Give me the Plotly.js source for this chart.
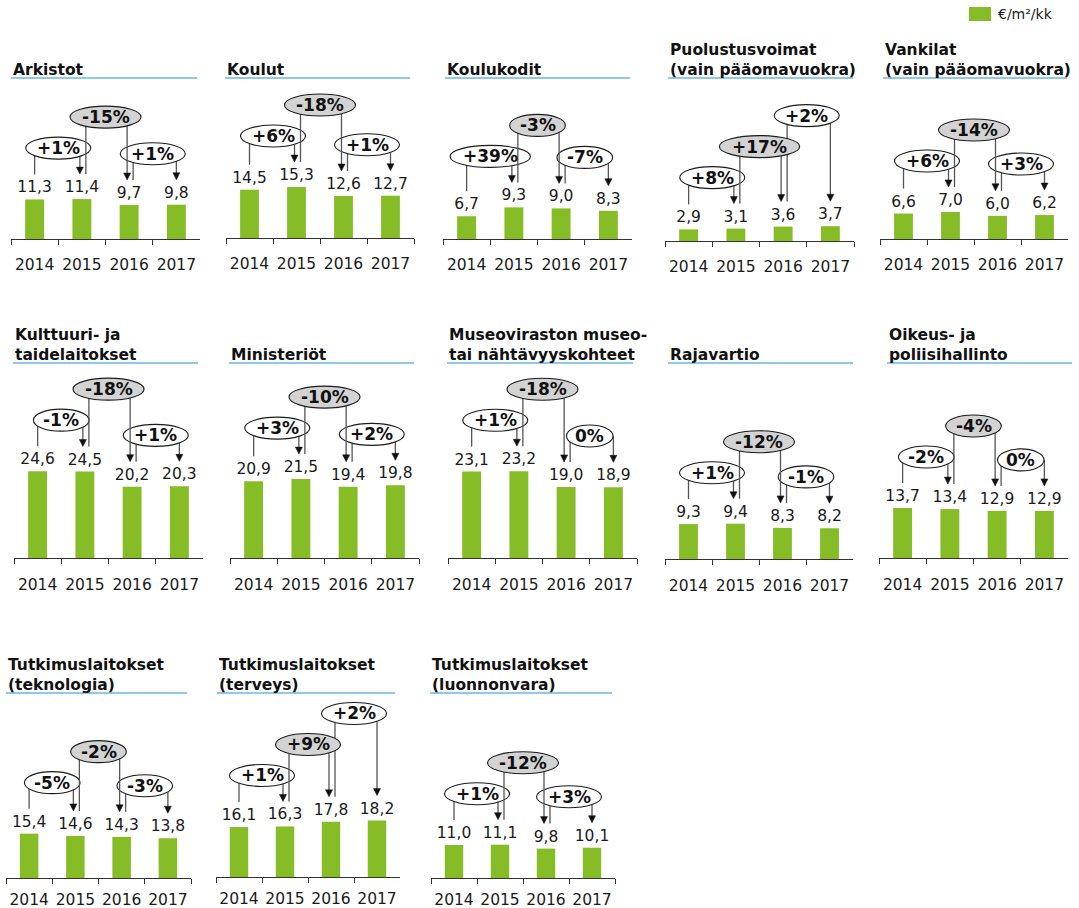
<!DOCTYPE html>
<html><head><meta charset="utf-8">
<script src="https://cdn.plot.ly/plotly-3.0.1.min.js"></script>
<style>html,body{margin:0;padding:0;background:#fff}</style>
</head><body><div id="chart" style="width:1079px;height:908px"></div>
<script>
// ---------- data ----------
const years = ['2014', '2015', '2016', '2017'];
const unitLabel = '€/m²/kk';

const arkistot = [11.3, 11.4, 9.7, 9.8];
const koulut = [14.5, 15.3, 12.6, 12.7];
const koulukodit = [6.7, 9.3, 9.0, 8.3];
const puolustusvoimat = [2.9, 3.1, 3.6, 3.7];
const vankilat = [6.6, 7.0, 6.0, 6.2];
const kulttuuri = [24.6, 24.5, 20.2, 20.3];
const ministeriot = [20.9, 21.5, 19.4, 19.8];
const museovirasto = [23.1, 23.2, 19.0, 18.9];
const rajavartio = [9.3, 9.4, 8.3, 8.2];
const oikeus = [13.7, 13.4, 12.9, 12.9];
const tutkTeknologia = [15.4, 14.6, 14.3, 13.8];
const tutkTerveys = [16.1, 16.3, 17.8, 18.2];
const tutkLuonnonvara = [11.0, 11.1, 9.8, 10.1];

const arkistotChange = ['+1%', '-15%', '+1%'];
const koulutChange = ['+6%', '-18%', '+1%'];
const koulukoditChange = ['+39%', '-3%', '-7%'];
const puolustusvoimatChange = ['+8%', '+17%', '+2%'];
const vankilatChange = ['+6%', '-14%', '+3%'];
const kulttuuriChange = ['-1%', '-18%', '+1%'];
const ministeriotChange = ['+3%', '-10%', '+2%'];
const museovirastoChange = ['+1%', '-18%', '0%'];
const rajavartioChange = ['+1%', '-12%', '-1%'];
const oikeusChange = ['-2%', '-4%', '0%'];
const tutkTeknologiaChange = ['-5%', '-2%', '-3%'];
const tutkTerveysChange = ['+1%', '+9%', '+2%'];
const tutkLuonnonvaraChange = ['+1%', '-12%', '+3%'];

const panelTitles = [
  ['Arkistot'],
  ['Koulut'],
  ['Koulukodit'],
  ['Puolustusvoimat', '(vain pääomavuokra)'],
  ['Vankilat', '(vain pääomavuokra)'],
  ['Kulttuuri- ja', 'taidelaitokset'],
  ['Ministeriöt'],
  ['Museoviraston museo-', 'tai nähtävyyskohteet'],
  ['Rajavartio'],
  ['Oikeus- ja', 'poliisihallinto'],
  ['Tutkimuslaitokset', '(teknologia)'],
  ['Tutkimuslaitokset', '(terveys)'],
  ['Tutkimuslaitokset', '(luonnonvara)']
];
const panelValues = [arkistot, koulut, koulukodit, puolustusvoimat, vankilat,
  kulttuuri, ministeriot, museovirasto, rajavartio, oikeus,
  tutkTeknologia, tutkTerveys, tutkLuonnonvara];
const panelChanges = [arkistotChange, koulutChange, koulukoditChange, puolustusvoimatChange, vankilatChange,
  kulttuuriChange, ministeriotChange, museovirastoChange, rajavartioChange, oikeusChange,
  tutkTeknologiaChange, tutkTerveysChange, tutkLuonnonvaraChange];

// ---------- layout geometry (pixels) ----------
// ax0/ax1: x-axis extent, ay: axis line y, scale: px per unit, ux0/ux1/uy: title underline, ls: tick label standoff
const geom = [
  {ax0: 11, ax1: 200, ay: 239, scale: 3.5, ux0: 11, ux1: 197, uy: 78, ls: 11},
  {ax0: 226, ax1: 414, ay: 238, scale: 3.33, ux0: 225, ux1: 410, uy: 78, ls: 11},
  {ax0: 443, ax1: 632, ay: 239, scale: 3.4, ux0: 445, ux1: 630, uy: 78, ls: 11},
  {ax0: 665, ax1: 854, ay: 241, scale: 4.0, ux0: 668, ux1: 853, uy: 78, ls: 11},
  {ax0: 880, ax1: 1068, ay: 239, scale: 3.86, ux0: 883, ux1: 1067, uy: 78, ls: 11},
  {ax0: 14, ax1: 203, ay: 558, scale: 3.53, ux0: 13, ux1: 198, uy: 363, ls: 12},
  {ax0: 230, ax1: 419, ay: 558, scale: 3.67, ux0: 229, ux1: 414, uy: 363, ls: 12},
  {ax0: 448, ax1: 637, ay: 558, scale: 3.74, ux0: 447, ux1: 633, uy: 363, ls: 12},
  {ax0: 665, ax1: 853, ay: 559, scale: 3.75, ux0: 668, ux1: 853, uy: 363, ls: 12},
  {ax0: 879, ax1: 1068, ay: 558, scale: 3.65, ux0: 887, ux1: 1072, uy: 363, ls: 12},
  {ax0: 6, ax1: 191, ay: 878, scale: 2.88, ux0: 6, ux1: 187, uy: 693, ls: 7},
  {ax0: 216, ax1: 400, ay: 877, scale: 3.1, ux0: 217, ux1: 395, uy: 693, ls: 7},
  {ax0: 431, ax1: 615, ay: 878, scale: 3.0, ux0: 430, ux1: 612, uy: 693, ls: 7}
];

const W = 1079, H = 908;
const FONT = 'DejaVu Sans, Verdana, sans-serif';
const GREEN = '#86bc25';
const px = x => x / W;
const py = y => 1 - y / H;
const PLOT_H = 200;

const canvas = document.createElement('canvas');
const ctx = canvas.getContext('2d');
ctx.font = 'bold 16px "DejaVu Sans"';
const textW = t => ctx.measureText(t).width;

const data = [], shapes = [], annotations = [];
const layout = {
  width: W, height: H,
  margin: {l: 0, r: 0, t: 0, b: 0},
  paper_bgcolor: '#fff', plot_bgcolor: 'rgba(0,0,0,0)',
  font: {family: FONT, color: '#1a1a1a'},
  showlegend: false,
  bargap: 0.6
};

const fmt = v => v.toFixed(1).replace('.', ',');

panelValues.forEach((vals, i) => {
  const g = geom[i];
  const n = i + 1;
  const sfx = n === 1 ? '' : String(n);
  const xr = 'x' + sfx, yr = 'y' + sfx;
  data.push({
    type: 'bar', x: years, y: vals, xaxis: xr, yaxis: yr,
    marker: {color: GREEN},
    text: vals.map(fmt), textposition: 'outside', constraintext: 'none',
    cliponaxis: false,
    textfont: {family: FONT, size: 15.5, color: '#1a1a1a'},
    hovertemplate: '%{x}: %{text} ' + unitLabel + '<extra></extra>'
  });
  layout['xaxis' + sfx] = {
    domain: [px(g.ax0), px(g.ax1)], anchor: yr, type: 'category',
    showline: true, linecolor: '#333', linewidth: 1,
    ticks: 'outside', tickson: 'boundaries', ticklen: 5, tickcolor: '#333', tickwidth: 1,
    tickfont: {family: FONT, size: 15.5, color: '#1a1a1a'},
    tickangle: 0, ticklabelstandoff: g.ls,
    showgrid: false, zeroline: false, fixedrange: true
  };
  layout['yaxis' + sfx] = {
    domain: [py(g.ay), py(g.ay - PLOT_H)], anchor: xr,
    range: [0, PLOT_H / g.scale], visible: false, fixedrange: true
  };

  // title + underline
  annotations.push({
    xref: 'paper', yref: 'paper', x: px(g.ux0), y: py(g.uy + 3),
    xanchor: 'left', yanchor: 'bottom', align: 'left', showarrow: false,
    text: panelTitles[i].map(t => '<b>' + t + '</b>').join('<br>'),
    font: {family: FONT, size: 15.5, color: '#111'}
  });
  shapes.push({type: 'line', xref: 'paper', yref: 'paper',
    x0: px(g.ux0), x1: px(g.ux1), y0: py(g.uy), y1: py(g.uy),
    line: {color: '#8dc9ea', width: 2}});

  // change bubbles
  const cw = (g.ax1 - g.ax0) / 4;
  const cx = k => g.ax0 + (k + 0.5) * cw;
  const barTop = k => g.ay - vals[k] * g.scale;
  const endY = k => barTop(k) - 25;
  const stair = vals.every((v, k) => k === 0 || v > vals[k - 1]);
  const lv = [Math.max(vals[0], vals[1]) * g.scale + 51, 0, Math.max(vals[2], vals[3]) * g.scale + 51];
  if (stair) { lv[1] = lv[0] + 31; lv[2] = lv[1] + 31; }
  else { lv[1] = Math.max(lv[0], lv[2]) + 31; }

  const order = [0, 2, 1];
  order.forEach(k => {
    const label = panelChanges[i][k];
    const bx = g.ax0 + (k + 1) * cw;
    const by = g.ay - lv[k];
    const a = (1.38 * textW(label) + 9) / 2;
    const b = 11;
    const edgeY = x => Math.abs(x - bx) < a ? by + b * Math.sqrt(1 - Math.pow((x - bx) / a, 2)) : by;
    const xs = cx(k) + (k > 0 ? 4 : 0);
    const xe = cx(k + 1) - (k + 1 < 3 ? 2 : 0);
    const ye = endY(k + 1);
    shapes.push({type: 'line', xref: 'paper', yref: 'paper',
      x0: px(xs), x1: px(xs), y0: py(edgeY(xs)), y1: py(endY(k)),
      line: {color: '#555', width: 1.3}});
    shapes.push({type: 'line', xref: 'paper', yref: 'paper',
      x0: px(xe), x1: px(xe), y0: py(edgeY(xe)), y1: py(ye - 6),
      line: {color: '#555', width: 1.3}});
    shapes.push({type: 'path', xref: 'paper', yref: 'paper',
      path: `M ${px(xe - 3.5)} ${py(ye - 7)} L ${px(xe + 3.5)} ${py(ye - 7)} L ${px(xe)} ${py(ye)} Z`,
      fillcolor: '#111', line: {color: '#111', width: 0.5}});
    shapes.push({type: 'circle', xref: 'paper', yref: 'paper',
      x0: px(bx - a), x1: px(bx + a), y0: py(by + b), y1: py(by - b),
      fillcolor: k === 1 ? '#d3d3d3' : '#ffffff', line: {color: '#1a1a1a', width: 1.1}});
    annotations.push({xref: 'paper', yref: 'paper', x: px(bx), y: py(by),
      xanchor: 'center', yanchor: 'middle', showarrow: false,
      text: '<b>' + label + '</b>', font: {family: FONT, size: 17, color: '#111'}});
  });
});

// legend
shapes.push({type: 'rect', xref: 'paper', yref: 'paper',
  x0: px(969), x1: px(991), y0: py(21), y1: py(7), fillcolor: GREEN, line: {width: 0}});
annotations.push({xref: 'paper', yref: 'paper', x: px(996), y: py(14),
  xanchor: 'left', yanchor: 'middle', showarrow: false, text: unitLabel,
  font: {family: FONT, size: 14, color: '#1a1a1a'}});

layout.shapes = shapes;
layout.annotations = annotations;
Plotly.newPlot('chart', data, layout, {displayModeBar: false});
</script></body></html>
